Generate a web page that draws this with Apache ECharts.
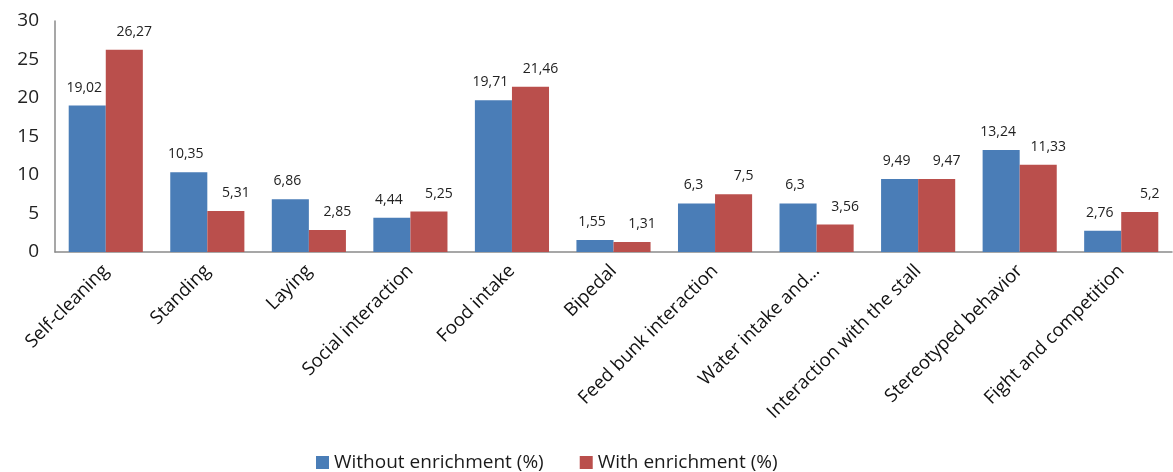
<!DOCTYPE html>
<html>
<head>
<meta charset="utf-8">
<script src="https://cdn.jsdelivr.net/npm/echarts@6/dist/echarts.min.js"></script>
<style>html,body{margin:0;padding:0;background:#fff}#c{width:1173px;height:472px}</style>
</head>
<body>
<div id="c"></div>
<script>
const categories = ["Self-cleaning","Standing","Laying","Social interaction","Food intake","Bipedal","Feed bunk interaction","Water intake and…","Interaction with the stall","Stereotyped behavior","Fight and competition"];
const withoutEnrichment = [19.02,10.35,6.86,4.44,19.71,1.55,6.3,6.3,9.49,13.24,2.76];
const withEnrichment = [26.27,5.31,2.85,5.25,21.46,1.31,7.5,3.56,9.47,11.33,5.2];
const seriesNames = ["Without enrichment (%)","With enrichment (%)"];
const yTicks = {min:0,max:30,interval:5};

const fmt = p => String(p.value).replace('.', ',');
const chart = echarts.init(document.getElementById('c'));
const font = "'Open Sans', sans-serif";
chart.setOption({
  animation:false,
  textStyle:{fontFamily:font},
  grid:{left:55,right:1,top:21,bottom:220},
  legend:{top:453,left:311,itemWidth:13,itemHeight:13,itemGap:36,icon:'rect',padding:[0,5],
    textStyle:{fontSize:19,color:'#1a1a1a',fontFamily:font},data:seriesNames},
  xAxis:{type:'category',data:categories,
    axisLine:{lineStyle:{color:'#8a8a8a',width:1.5}},axisTick:{show:false},
    axisLabel:{rotate:45,fontSize:18.5,color:'#111',margin:16,interval:0,fontFamily:font}},
  yAxis:{type:'value',min:yTicks.min,max:yTicks.max,interval:yTicks.interval,
    splitLine:{show:false},axisLine:{show:true,lineStyle:{color:'#8a8a8a',width:1.5}},axisTick:{show:false},
    axisLabel:{fontSize:19,color:'#222',margin:16,fontFamily:font}},
  series:[
    {name:seriesNames[0],type:'bar',data:withoutEnrichment,barGap:'0%',barCategoryGap:'27%',
     itemStyle:{color:'#4A7DB7'},
     label:{show:true,position:'top',distance:11,formatter:fmt,fontSize:14,color:'#222',offset:[-3,0]}},
    {name:seriesNames[1],type:'bar',data:withEnrichment,barGap:'0%',barCategoryGap:'27%',
     itemStyle:{color:'#BA4F4C'},
     label:{show:true,position:'top',distance:11,formatter:fmt,fontSize:14,color:'#222',offset:[10,0]}}
  ]
});
</script>
</body>
</html>
